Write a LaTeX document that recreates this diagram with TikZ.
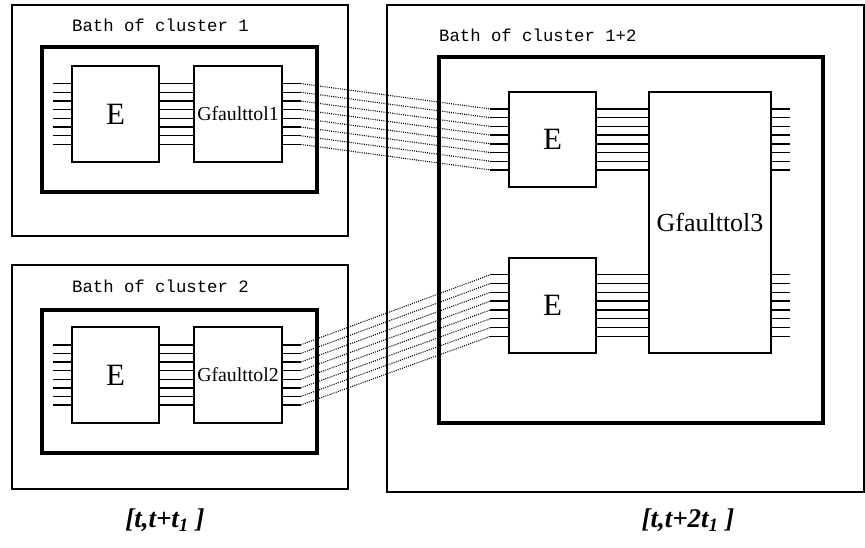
\documentclass[tikz,border=0pt]{standalone}
\usepackage{fontspec}
\setmainfont{Liberation Serif}
\setmonofont{Liberation Mono}
\begin{document}
\begin{tikzpicture}[x=1pt,y=-1pt,
	bath/.style = {draw, line width=1.3pt, inner sep=0pt},
	core/.style = {draw, line width=3.6pt, inner sep=0pt},
	blk/.style = {draw, line width=1.1pt, fill=white, inner sep=0pt},
	wire/.style = {line width=1.4pt},
	link/.style = {line width=1.1pt, dash pattern=on 1pt off 1.2pt},
	title/.style = {anchor=west, inner sep=0pt, font=\ttfamily\fontsize{17.3}{20}\selectfont},
	span/.style = {inner sep=0pt, font=\bfseries\itshape\fontsize{27}{30}\selectfont}]
	\useasboundingbox (0,0) rectangle (865,548);

	% cluster 1
	\node[bath, minimum width=336, minimum height=231] (bath1) at (180,120.5) {};
	\node[title] (t1) at (72,25) {Bath of cluster 1};
	\node[core, minimum width=275, minimum height=145] (core1) at (179.5,119.5) {};
	\node[blk, minimum width=87, minimum height=96, font=\fontsize{31}{33}\selectfont] (E1) at (115.5,114) {E};
	\node[blk, minimum width=88, minimum height=96, font=\fontsize{19.8}{22}\selectfont] (G1) at (238,114) {Gfaulttol1};

	% cluster 2
	\node[bath, minimum width=336, minimum height=224] (bath2) at (180,377) {};
	\node[title] (t2) at (72,286) {Bath of cluster 2};
	\node[core, minimum width=275, minimum height=143] (core2) at (179.5,381.5) {};
	\node[blk, minimum width=87, minimum height=96, font=\fontsize{31}{33}\selectfont] (E2) at (115.5,375) {E};
	\node[blk, minimum width=88, minimum height=96, font=\fontsize{19.8}{22}\selectfont] (G2) at (238,375) {Gfaulttol2};

	% cluster 1+2
	\node[bath, minimum width=477, minimum height=487] (bath3) at (625.5,248.5) {};
	\node[title] (t3) at (439,35) {Bath of cluster 1+2};
	\node[core, minimum width=384, minimum height=366] (core3) at (631,240) {};
	\node[blk, minimum width=87, minimum height=95, font=\fontsize{31}{33}\selectfont] (E3) at (552.5,139.5) {E};
	\node[blk, minimum width=87, minimum height=95, font=\fontsize{31}{33}\selectfont] (E4) at (552.5,305.5) {E};
	\node[blk, minimum width=122, minimum height=261, font=\fontsize{26}{28}\selectfont] (G3) at (710,222.5) {Gfaulttol3};

	% wires
	\foreach \i in {1,...,8} {
		\draw[wire] ([yshift={(4.5-\i)*8.7}]E1.west) -- ++(-18,0);
		\draw[wire] ([yshift={(4.5-\i)*8.7}]E1.east) -- ([yshift={(4.5-\i)*8.7}]G1.west);
		\draw[wire] ([yshift={(4.5-\i)*8.7}]G1.east) -- ++(18,0) coordinate (g1o\i);
		\draw[wire] ([yshift={(4.5-\i)*8.6}]E2.west) -- ++(-18,0);
		\draw[wire] ([yshift={(4.5-\i)*8.6}]E2.east) -- ([yshift={(4.5-\i)*8.6}]G2.west);
		\draw[wire] ([yshift={(4.5-\i)*8.6}]G2.east) -- ++(18,0) coordinate (g2o\i);
		\draw[wire] ([yshift={(4.5-\i)*8.7}]E3.west) -- ++(-18,0) coordinate (e3i\i);
		\draw[wire] ([yshift={(4.5-\i)*8.7}]E3.east) -- ([yshift={(4.5-\i)*8.7}]E3.east -| G3.west);
		\draw[wire] ([yshift={(4.5-\i)*8.7}]E3.east -| G3.east) -- ++(18,0);
		\draw[wire] ([yshift={(4.5-\i)*8.8}]E4.west) -- ++(-18,0) coordinate (e4i\i);
		\draw[wire] ([yshift={(4.5-\i)*8.8}]E4.east) -- ([yshift={(4.5-\i)*8.8}]E4.east -| G3.west);
		\draw[wire] ([yshift={(4.5-\i)*8.8}]E4.east -| G3.east) -- ++(18,0);
		\draw[link] (g1o\i) -- (e3i\i);
		\draw[link] (g2o\i) -- (e4i\i);
	}

	% time spans
	\node[span] (s1) at (165,520) {[t,t+t\textsubscript{1}\ ]};
	\node[span] (s2) at (688,520) {[t,t+2t\textsubscript{1}\ ]};
\end{tikzpicture}
\end{document}
